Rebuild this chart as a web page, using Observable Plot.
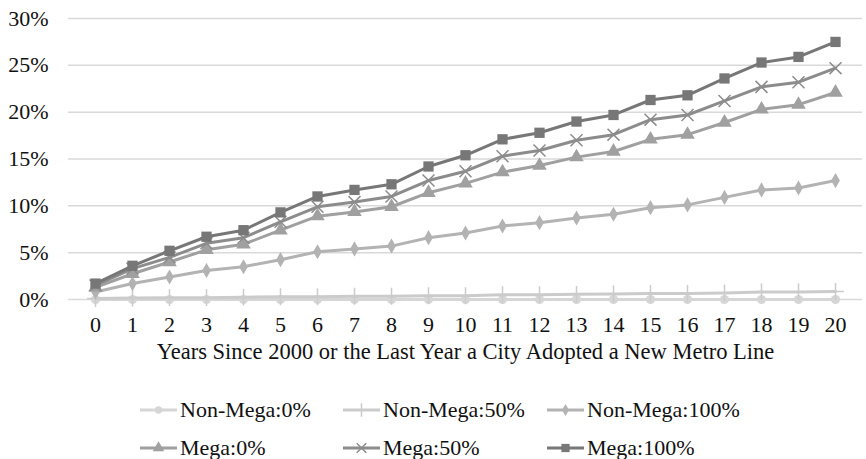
<!DOCTYPE html>
<html>
<head>
<meta charset="utf-8">
<script src="https://cdn.jsdelivr.net/npm/d3@7"></script>
<script src="https://cdn.jsdelivr.net/npm/@observablehq/plot@0.6"></script>
<style>
  body { margin: 0; background: #fff; font-family: "Liberation Serif", "Times New Roman", serif; }
  #wrap { position: relative; width: 866px; height: 459px; }
  .leg { position: absolute; display: flex; align-items: center; font-size: 22px; color: #111; white-space: nowrap; }
  .leg svg { display: block; margin-right: 3px; }
</style>
</head>
<body>
<div id="wrap"></div>
<script>
const years = d3.range(0, 21);
const seriesNames = ["Non-Mega:0%", "Non-Mega:50%", "Non-Mega:100%", "Mega:0%", "Mega:50%", "Mega:100%"];
const nonMega0   = [0,0,0,0,0,0,0,0,0,0,0,0,0,0,0,0,0,0,0,0,0];
const nonMega50  = [0.1,0.15,0.2,0.2,0.25,0.3,0.3,0.35,0.35,0.4,0.4,0.5,0.5,0.55,0.6,0.65,0.65,0.7,0.8,0.8,0.85];
const nonMega100 = [0.8,1.7,2.4,3.1,3.5,4.25,5.1,5.4,5.7,6.6,7.1,7.85,8.2,8.7,9.1,9.8,10.1,10.9,11.7,11.9,12.7];
const mega0      = [1.3,2.75,4.0,5.3,5.9,7.4,8.9,9.35,9.9,11.4,12.4,13.6,14.3,15.2,15.8,17.1,17.6,18.9,20.3,20.8,22.1];
const mega50     = [1.5,3.3,4.5,6.0,6.6,8.3,9.9,10.4,11.0,12.7,13.7,15.3,15.9,17.0,17.6,19.2,19.7,21.2,22.7,23.2,24.7];
const mega100    = [1.7,3.6,5.2,6.7,7.4,9.3,11.0,11.7,12.3,14.2,15.4,17.1,17.8,19.0,19.7,21.3,21.8,23.6,25.3,25.9,27.5];
const yTicks = [0, 5, 10, 15, 20, 25, 30];
const xTitle = "Years Since 2000 or the Last Year a City Adopted a New Metro Line";

const allValues = [nonMega0, nonMega50, nonMega100, mega0, mega50, mega100];
const colors = ["#d6d6d6", "#cbcbcb", "#b3b3b3", "#a0a0a0", "#8c8c8c", "#777777"];
const symbols = ["circle", "plus", "diamond", "triangle", "times", "square"];
const radii = [4.6, 5.5, 4.6, 5.4, 5.5, 5.8];
const strokeSym = [false, true, false, false, true, false];

const marks = [
  Plot.gridY(yTicks, {stroke: "#d9d9d9", strokeOpacity: 1, strokeWidth: 1.5}),
  Plot.axisY(yTicks, {tickSize: 0, tickPadding: 20, tickFormat: d => d + "%", fontSize: 22, fill: "#111"}),
  Plot.axisX(years, {tickSize: 0, tickPadding: 17, fontSize: 22, fill: "#111", label: null}),
  Plot.text([xTitle], {frameAnchor: "bottom", dy: 59, fontSize: 22.5, fill: "#111"})
];
allValues.forEach((vals, i) => {
  const data = years.map((y, j) => ({year: y, value: vals[j]}));
  marks.push(Plot.lineY(data, {x: "year", y: "value", stroke: colors[i], strokeWidth: 3}));
  if (strokeSym[i]) {
    marks.push(Plot.dot(data, {x: "year", y: "value", symbol: () => symbols[i], r: radii[i], stroke: colors[i], strokeWidth: 1.5, fill: "none"}));
  } else {
    marks.push(Plot.dot(data, {x: "year", y: "value", symbol: () => symbols[i], r: radii[i], fill: colors[i], stroke: "none"}));
  }
});

const chart = Plot.plot({
  width: 866,
  height: 375,
  marginLeft: 68,
  marginRight: 4,
  marginTop: 18,
  marginBottom: 76,
  style: {fontFamily: "Liberation Serif, Times New Roman, serif", background: "#fff"},
  x: {type: "point", domain: years, padding: 0.5},
  y: {domain: [0, 30], label: null},
  symbol: {type: "identity"},
  marks
});
const wrap = document.getElementById("wrap");
wrap.appendChild(chart);

// Legend
const legPos = [[140, 410], [343, 410], [547, 410], [140, 448], [343, 448], [547, 448]];
seriesNames.forEach((name, i) => {
  const div = document.createElement("div");
  div.className = "leg";
  div.style.left = legPos[i][0] + "px";
  div.style.top = (legPos[i][1] - 14) + "px";
  div.style.height = "28px";
  const ns = "http://www.w3.org/2000/svg";
  const s = document.createElementNS(ns, "svg");
  s.setAttribute("width", 37); s.setAttribute("height", 20);
  const ln = document.createElementNS(ns, "line");
  ln.setAttribute("x1", 0); ln.setAttribute("x2", 37); ln.setAttribute("y1", 10); ln.setAttribute("y2", 10);
  ln.setAttribute("stroke", colors[i]); ln.setAttribute("stroke-width", 3);
  s.appendChild(ln);
  const sym = {circle: d3.symbolCircle, plus: d3.symbolPlus, diamond: d3.symbolDiamond, triangle: d3.symbolTriangle, times: d3.symbolTimes, square: d3.symbolSquare}[symbols[i]];
  const p = document.createElementNS(ns, "path");
  const r = radii[i] * 0.8;
  p.setAttribute("d", d3.symbol(sym, Math.PI * r * r)());
  p.setAttribute("transform", "translate(18.5,10)");
  if (strokeSym[i]) { p.setAttribute("fill", "none"); p.setAttribute("stroke", colors[i]); p.setAttribute("stroke-width", 1.5); }
  else p.setAttribute("fill", colors[i]);
  s.appendChild(p);
  div.appendChild(s);
  const t = document.createElement("span");
  t.textContent = name;
  div.appendChild(t);
  wrap.appendChild(div);
});
</script>
</body>
</html>
